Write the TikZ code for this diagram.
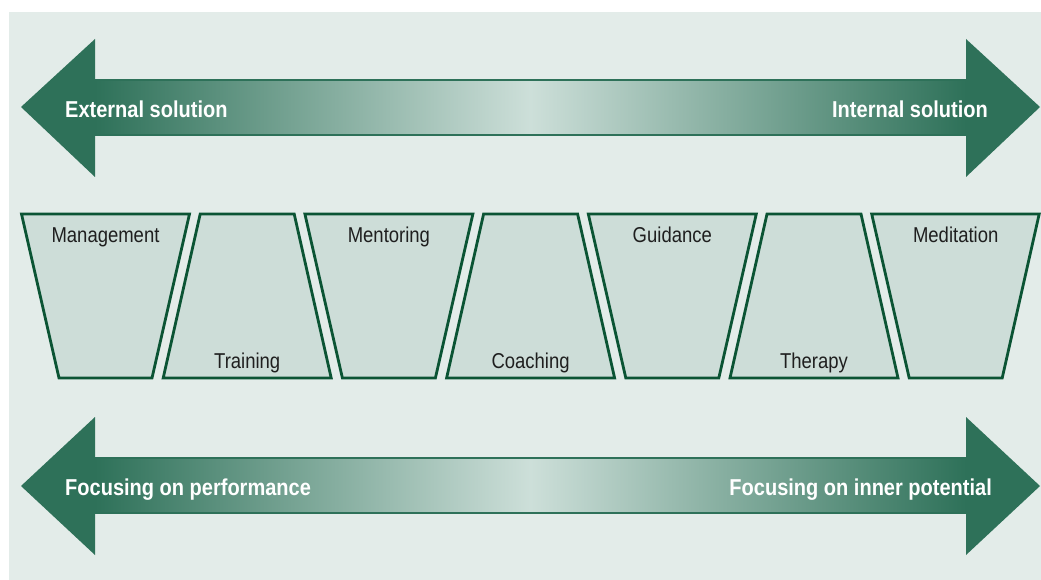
\documentclass[tikz,border=0pt]{standalone}
\usepackage{fontspec}
\setmainfont{Liberation Sans}
\newfontfamily\schmal{Liberation Sans}[FakeStretch=0.86]
\newfontfamily\schmalfett{Liberation Sans}[FakeStretch=0.87]

\definecolor{hgrund}{HTML}{E3ECE9}
\definecolor{dunkelgruen}{HTML}{2E7159}
\definecolor{hellgruen}{HTML}{CDDFD9}
\definecolor{rahmen}{HTML}{0B5434}
\definecolor{kastenfarbe}{HTML}{CDDDD8}

\pgfdeclarehorizontalshading{pfeilverlauf}{100bp}{color(0bp)=(dunkelgruen); color(25bp)=(dunkelgruen); color(50bp)=(hellgruen); color(75bp)=(dunkelgruen); color(100bp)=(dunkelgruen)}

\tikzset{
  kasten/.style={draw=rahmen, line width=2.8pt, fill=kastenfarbe, line join=miter},
  beschriftung/.style={font=\schmal\fontsize{21.5}{24}\selectfont, text=black!88, inner sep=0pt},
  pfeiltext/.style={font=\schmalfett\bfseries\fontsize{23}{26}\selectfont, text=white, inner sep=0pt},
  spitze/.style={fill=dunkelgruen},
  schaft/.style={shading=pfeilverlauf, draw=dunkelgruen, line width=1.5pt}
}

\begin{document}
\begin{tikzpicture}[x=1pt,y=-1pt]

\useasboundingbox (0,0) rectangle (1041,580);
\fill[hgrund] (9,12) rectangle (1041,580);

% oberer Doppelpfeil
\path[schaft] (95,80) rectangle (966,135);
\fill[spitze] (21,107) -- (95,39) -- (95,177) -- cycle;
\fill[spitze] (1040,107) -- (966,39) -- (966,177) -- cycle;
\node[pfeiltext, anchor=base west] (extern) at (65,118) {External solution};
\node[pfeiltext, anchor=base east] (intern) at (988,118) {Internal solution};

% Trapeze in der Mitte
\draw[kasten] (21.5,214) -- (189.5,214) -- (152,378) -- (59,378) -- cycle;
\draw[kasten] (200.2,214) -- (294.2,214) -- (331.2,378) -- (163.2,378) -- cycle;
\draw[kasten] (304.9,214) -- (472.9,214) -- (435.4,378) -- (342.4,378) -- cycle;
\draw[kasten] (483.6,214) -- (577.6,214) -- (614.6,378) -- (446.6,378) -- cycle;
\draw[kasten] (588.3,214) -- (756.3,214) -- (718.8,378) -- (625.8,378) -- cycle;
\draw[kasten] (767,214) -- (861,214) -- (898,378) -- (730,378) -- cycle;
\draw[kasten] (871.7,214) -- (1039.2,214) -- (1002.2,378) -- (909.2,378) -- cycle;

% Beschriftungen oben und unten
\node[beschriftung, anchor=base] (management) at (105.5,242) {Management};
\node[beschriftung, anchor=base] (training) at (247.2,368) {Training};
\node[beschriftung, anchor=base] (mentoring) at (388.9,242) {Mentoring};
\node[beschriftung, anchor=base] (coaching) at (530.6,368) {Coaching};
\node[beschriftung, anchor=base] (guidance) at (672.3,242) {Guidance};
\node[beschriftung, anchor=base] (therapy) at (814,368) {Therapy};
\node[beschriftung, anchor=base] (meditation) at (955.7,242) {Meditation};

% unterer Doppelpfeil
\path[schaft] (95,458) rectangle (966,513);
\fill[spitze] (21,486) -- (95,417) -- (95,555) -- cycle;
\fill[spitze] (1040,486) -- (966,417) -- (966,555) -- cycle;
\node[pfeiltext, anchor=base west] (leistung) at (65,495) {Focusing on performance};
\node[pfeiltext, anchor=base east] (potenzial) at (992,495) {Focusing on inner potential};

\end{tikzpicture}
\end{document}
